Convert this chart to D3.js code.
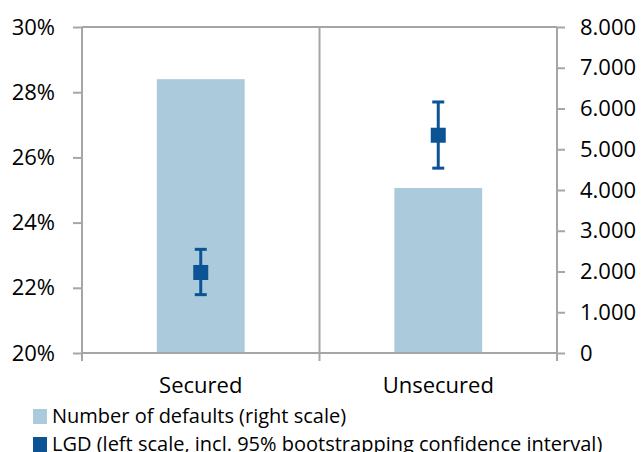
<!DOCTYPE html>
<html>
<head>
<meta charset="utf-8">
<script src="https://cdn.jsdelivr.net/npm/d3@7"></script>
<style>
body{margin:0;background:#fff;}
text{font-family:"Open Sans",sans-serif;fill:#000;}
</style>
</head>
<body>
<svg id="chart" width="644" height="452"></svg>
<script>
// data
var categories=["Secured","Unsecured"];
var defaults=[6720,4050];          // number of defaults (right scale)
var lgd=[0.2247,0.2668];           // LGD point estimate (left scale)
var lgdLow=[0.2179,0.2567];        // 95% bootstrap CI lower
var lgdHigh=[0.2318,0.2770];       // 95% bootstrap CI upper
var leftTicks=[0.20,0.22,0.24,0.26,0.28,0.30];
var rightTicks=[0,1000,2000,3000,4000,5000,6000,7000,8000];
var legendLabels=["Number of defaults (right scale)","LGD (left scale, incl. 95% bootstrapping confidence interval)"];

var barColor="#abcbdd",lgdColor="#0b5394",axisColor="#a6a6a6";
var m={left:82,right:557,top:27,bottom:353};
var svg=d3.select("#chart");

var x=d3.scaleBand().domain(categories).range([m.left,m.right]).paddingInner(0).paddingOuter(0);
var yL=d3.scaleLinear().domain([0.20,0.30]).range([m.bottom,m.top]);
var yR=d3.scaleLinear().domain([0,8000]).range([m.bottom,m.top]);
var barW=x.bandwidth()*0.37;

//bars
svg.append("g").selectAll("rect").data(categories).enter().append("rect")
	.attr("x",function(d){return x(d)+x.bandwidth()/2-barW/2;})
	.attr("y",function(d,i){return yR(defaults[i]);})
	.attr("width",barW)
	.attr("height",function(d,i){return m.bottom-yR(defaults[i]);})
	.attr("fill",barColor);

//frame: top line and category dividers
var frame=svg.append("g").attr("stroke",axisColor).attr("stroke-width",2).attr("fill","none");
frame.append("line").attr("x1",m.left).attr("x2",m.right).attr("y1",m.top).attr("y2",m.top);
frame.selectAll("line.div").data(categories.slice(1)).enter().append("line").attr("class","div")
	.attr("x1",function(d){return x(d);}).attr("x2",function(d){return x(d);})
	.attr("y1",m.top).attr("y2",m.bottom+8);
frame.append("line").attr("x1",m.left).attr("x2",m.right).attr("y1",m.bottom).attr("y2",m.bottom);

//left axis
var axL=svg.append("g").attr("transform","translate("+m.left+",0)")
	.call(d3.axisLeft(yL).tickValues(leftTicks).tickFormat(d3.format(".0%")).tickSize(9).tickPadding(18));
//right axis
var axR=svg.append("g").attr("transform","translate("+m.right+",0)")
	.call(d3.axisRight(yR).tickValues(rightTicks).tickFormat(function(d){return d===0?"0":d3.format(",")(d).replace(/,/g,".");}).tickSize(8).tickPadding(15));
[axL,axR].forEach(function(a){
	a.select(".domain").remove();
	a.selectAll(".tick line").attr("stroke",axisColor).attr("stroke-width",2);
	a.selectAll(".tick text").attr("font-size",22).attr("font-family","'Open Sans',sans-serif").attr("fill","#000");
});
//axis lines extend a little below the bottom
svg.append("g").attr("stroke",axisColor).attr("stroke-width",2).selectAll("line").data([m.left,m.right]).enter().append("line")
	.attr("x1",function(d){return d;}).attr("x2",function(d){return d;})
	.attr("y1",m.top).attr("y2",m.bottom+8);

//category labels
svg.append("g").selectAll("text").data(categories).enter().append("text")
	.attr("x",function(d){return x(d)+x.bandwidth()/2;})
	.attr("y",393)
	.attr("text-anchor","middle")
	.attr("font-size",22)
	.text(function(d){return d;});

//LGD error bars and markers
var eb=svg.append("g").attr("stroke",lgdColor).attr("stroke-width",3);
categories.forEach(function(c,i){
	var cx=x(c)+x.bandwidth()/2;
	eb.append("line").attr("x1",cx).attr("x2",cx).attr("y1",yL(lgdLow[i])).attr("y2",yL(lgdHigh[i]));
	eb.append("line").attr("x1",cx-6).attr("x2",cx+6).attr("y1",yL(lgdLow[i])).attr("y2",yL(lgdLow[i]));
	eb.append("line").attr("x1",cx-6).attr("x2",cx+6).attr("y1",yL(lgdHigh[i])).attr("y2",yL(lgdHigh[i]));
	svg.append("rect").attr("x",cx-7.5).attr("y",yL(lgd[i])-7.5).attr("width",15).attr("height",15).attr("fill",lgdColor);
});

//legend
var lg=svg.append("g");
legendLabels.forEach(function(t,i){
	var yy=409+i*28;
	lg.append("rect").attr("x",33).attr("y",yy).attr("width",14).attr("height",15).attr("fill",i===0?barColor:lgdColor);
	lg.append("text").attr("x",52).attr("y",yy+14).attr("font-size",20).text(t);
});
</script>
</body>
</html>
